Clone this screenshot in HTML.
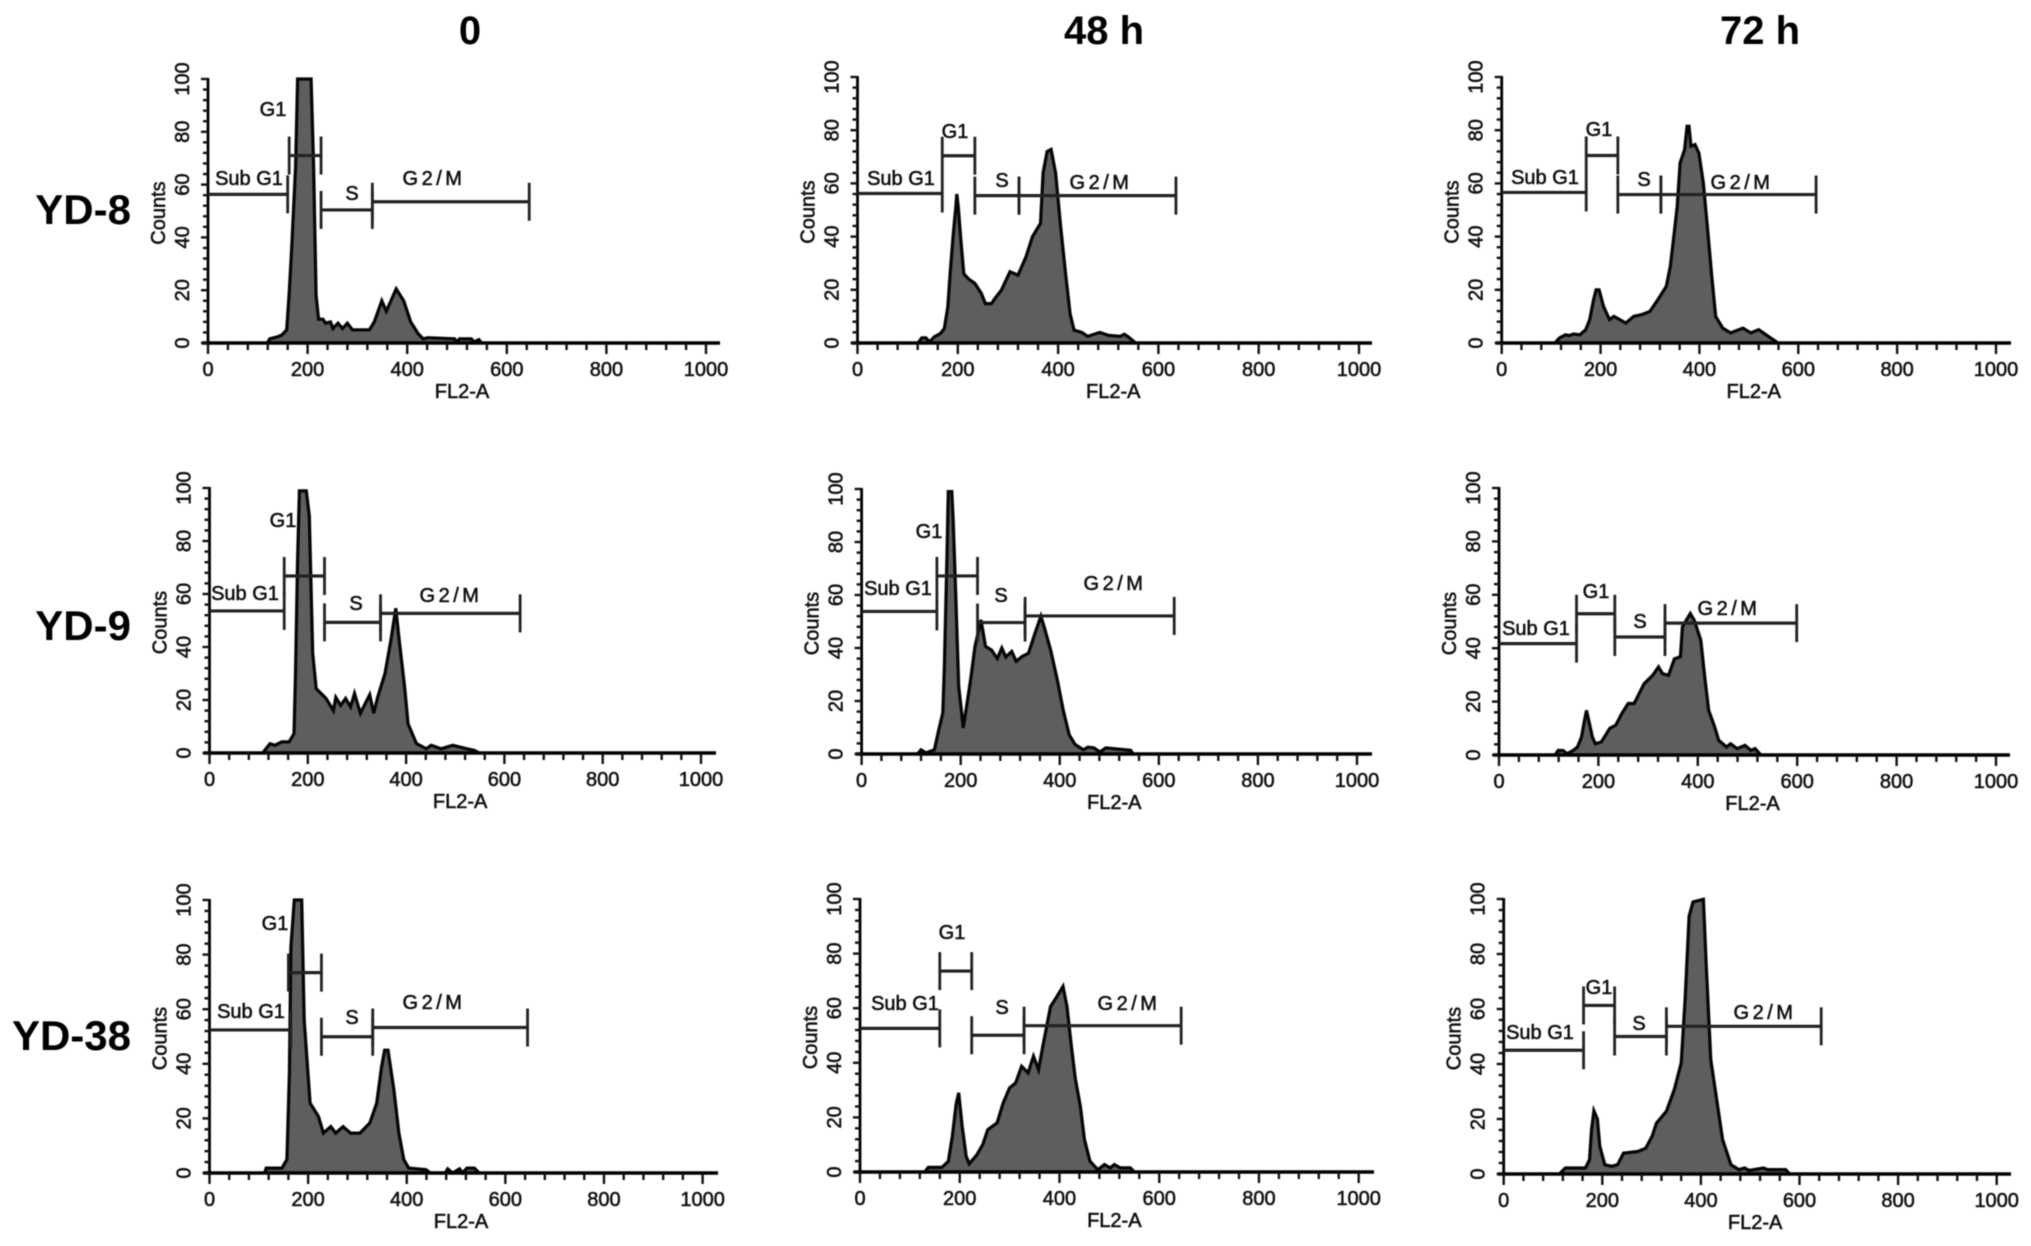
<!DOCTYPE html>
<html lang="en">
<head>
<meta charset="utf-8">
<title>Cell cycle histograms</title>
<style>
html,body{margin:0;padding:0;background:#fff;width:2031px;height:1246px;overflow:hidden}
svg{display:block;filter:blur(0.6px)}
text{font-family:"Liberation Sans",Arial,sans-serif;fill:#111}
.small{font-size:20px;stroke:#111;stroke-width:.55px}
.head{font-weight:bold;fill:#000}
</style>
</head>
<body>
<svg id="figure" xmlns="http://www.w3.org/2000/svg" width="2031" height="1246" viewBox="0 0 2031 1246">
<text class="head" x="470" y="44" font-size="40" text-anchor="middle">0</text>
<text class="head" x="1104" y="44" font-size="40" text-anchor="middle">48 h</text>
<text class="head" x="1766" y="44" font-size="40" text-anchor="middle" transform="translate(-6 0)">72 h</text>
<text class="head" x="131" y="224" font-size="42" text-anchor="end">YD-8</text>
<text class="head" x="131" y="640" font-size="42" text-anchor="end">YD-9</text>
<text class="head" x="131" y="1050" font-size="42" text-anchor="end">YD-38</text>
</svg>
<script>
// Shared labels and ticks
const gateNames = ['Sub G1', 'G1', 'S', 'G2/M'];
const xTickLabels = [0, 200, 400, 600, 800, 1000];
const yTickLabels = [0, 20, 40, 60, 80, 100];

// YD-8, 0 h
const yd8h0Fl = [119,124,139,148,158,163,168,176,180,207,212,217,222,231,236,246,251,261,270,280,290,324,334,349,358,378,393,407,422,432,441,495,500,505,529,534,544,549];
const yd8h0Counts = [0,1.6,2.3,3,5,19,36,67,100,100,67,18,9,9,7.5,8,5.5,7.5,5.5,7.5,5,5,8,16,12,20.5,16,8,3.5,1.6,2,1.6,.4,1.6,1.6,.4,1.3,0];
const yd8h0GateStart = [0,163,227,330];
const yd8h0GateEnd = [160,227,330,645];
const yd8h0GateLevel = [56.3,71,50.4,53.5];

// YD-8, 48 h
const yd8h48Fl = [122,128,136,144,153,165,173,180,185,191,196,198,201,206,212,222,234,247,255,267,275,287,304,320,336,349,365,370,378,386,395,405,415,424,432,447,459,483,500,524,532,540,553];
const yd8h48Counts = [.3,1.9,2,.4,2.3,3.5,5.4,13.5,27,41,51,56,51,39,26,24,22.4,18.6,14.8,14.8,17,19.9,26.8,25.5,32.4,40,45,64,72,72.8,64,44,26,11,4.8,4,2.5,4,2.9,2.5,3.3,2.3,.3];
const yd8h48GateStart = [0,169,234,322];
const yd8h48GateEnd = [169,234,322,635];
const yd8h48GateLevel = [56.2,70.4,55.4,55.4];

// YD-8, 72 h
const yd8h72Fl = [109,117,129,137,145,158,170,178,186,191,197,206,218,227,239,251,267,284,300,316,333,341,349,355,361,370,375,379,383,391,399,408,416,425,433,447,463,488,504,520,541,557];
const yd8h72Counts = [.3,1.9,3.1,2.8,3.4,3.1,5,8.8,16.3,20,20,13.8,8.8,10,8.8,7.5,10,10.7,11.9,16.3,21.3,28.8,41.3,51.3,67.7,72.7,81.5,81.5,74,74.6,71.4,60,44,25,10,5.6,3.8,5.6,3.8,5,2.3,.3];
const yd8h72GateStart = [0,171,235,322];
const yd8h72GateEnd = [171,235,322,636];
const yd8h72GateLevel = [56.6,70.5,55.8,55.8];

// YD-9, 0 h
const yd9h0Fl = [108,123,133,147,162,172,175,179,183,197,203,210,217,237,252,257,267,277,287,295,307,317,326,334,342,357,369,379,386,397,404,421,441,451,471,495,524,539,549];
const yd9h0Counts = [0,3.5,2.9,4.2,4.2,7.3,30,71.6,98.9,98.9,89.5,37.6,24.3,20.6,16,21,18,20.6,17.4,22.5,15,18.7,22,15,21,30,42.6,54.6,42.6,25,11,3.6,1.6,2.9,1.6,2.9,1.6,1,0];
const yd9h0GateStart = [0,152,234,348];
const yd9h0GateEnd = [152,234,348,632];
const yd9h0GateLevel = [53.6,66.8,49.3,52.7];

// YD-9, 48 h
const yd9h48Fl = [113,120,130,147,155,164,167,172,175,182,185,190,196,202,205,212,220,229,241,250,262,274,283,291,303,312,324,337,350,362,370,382,395,407,419,431,448,457,469,481,493,543,548];
const yd9h48Counts = [0,1.6,.4,1.6,8.5,15.5,32,72,99,99,88,60.7,25.5,15.5,9.8,18,28,40.6,50.6,40.6,39.3,36,40,36.6,38.7,35,36.8,38,45.6,52,47,39,28,16.6,7.3,3.6,1.6,2.6,2.3,.8,2.3,1.4,0];
const yd9h48GateStart = [0,152,234,330];
const yd9h48GateEnd = [152,234,330,631];
const yd9h48GateLevel = [53.8,67.2,49.6,52.1];

// YD-9, 72 h
const yd9h72Fl = [113,119,129,137,149,158,166,172,176,182,188,194,206,223,235,247,260,272,280,292,309,321,329,341,353,365,369,385,393,406,414,422,434,442,458,466,479,495,507,515,527];
const yd9h72Counts = [0,1.7,1.7,.5,1.7,3,6.7,13,16.7,11.7,6.7,4.2,4.9,10,11.2,15.5,19.3,19.3,22.3,26.7,29.8,33,30.5,29.8,36,36.8,48,53,50.4,43,29,16.7,10.5,5.5,3,4.2,2.4,3.6,1.7,2.4,0];
const yd9h72GateStart = [0,156,233,334];
const yd9h72GateEnd = [156,233,334,599];
const yd9h72GateLevel = [41.7,52.9,44.2,49.4];

// YD-38, 0 h
const yd38h0Fl = [112,115,147,157,162,165,172,187,192,204,221,231,246,256,271,286,305,325,339,349,355,362,374,384,394,404,439,448,478,483,493,507,513,522,537,546];
const yd38h0Counts = [0,1.8,1.8,4.9,36.6,82.9,100,100,56,25.6,20.7,14.6,17,14.6,17,14.6,14.6,18.3,25.6,39,45,45,30.5,14.6,4.9,1.8,1.2,0,0,1.5,0,1.5,0,1.8,1.8,.2];
const yd38h0GateStart = [0,160,227,331];
const yd38h0GateEnd = [165,227,331,645];
const yd38h0GateLevel = [52.4,73.4,49.9,53.3];

// YD-38, 48 h
const yd38h48Fl = [130,137,164,177,185,193,198,205,213,219,234,246,256,275,287,300,312,324,337,348,358,366,382,395,407,415,424,432,442,450,461,477,490,502,510,522,542,550];
const yd38h48Counts = [0,1.7,1.7,3.9,13,25,29,16.7,5.7,3,6.2,10,15.5,18,25.2,30.8,32.6,38.7,36.3,42.4,37.5,45.4,60.6,64.3,68,60.6,46,34,24,12,4,.8,2.7,1.5,2.7,1.5,1.5,0];
const yd38h48GateStart = [0,160,224,329];
const yd38h48GateEnd = [160,224,329,644];
const yd38h48GateLevel = [52.6,73.6,50.1,53.6];

// YD-38, 72 h
const yd38h72Fl = [113,125,166,174,178,183,190,195,205,219,231,243,272,288,301,310,330,346,360,368,376,384,405,411,420,434,444,461,477,489,497,527,535,572,580];
const yd38h72Counts = [0,2.2,2.2,5.2,16,23,20,10.1,3.4,2.8,3.4,7.6,8.2,9.4,13.7,18.5,22.8,30.7,40.4,63.4,93.7,98.9,99.9,75.5,41.5,24.6,12.5,3.4,1.6,2.2,1.3,2.2,1.6,1.6,0];
const yd38h72GateStart = [0,162,225,330];
const yd38h72GateEnd = [162,225,330,644];
const yd38h72GateLevel = [45,61.3,50,53.7];

const NS = 'http://www.w3.org/2000/svg';
const figure = document.getElementById('figure');

function node(parent, tag, attrs, content) {
  const el = document.createElementNS(NS, tag);
  for (const key in attrs) el.setAttribute(key, attrs[key]);
  if (content !== undefined) el.textContent = content;
  parent.appendChild(el);
  return el;
}

function drawPanel(p) {
  const sx = v => p.x0 + v * (p.x1000 - p.x0) / 1000;
  const sy = c => p.y0 - c * (p.y0 - p.y100) / 100;

  const g = node(figure, 'g', {});
  
  

  // Filled histogram
  const pts = p.fl.map((v, i) => sx(v).toFixed(1) + ',' + sy(p.counts[i]).toFixed(1));
  const area = node(g, 'polygon', {
    points: sx(p.fl[0]).toFixed(1) + ',' + p.y0 + ' ' + pts.join(' ') + ' ' + sx(p.fl[p.fl.length - 1]).toFixed(1) + ',' + p.y0,
    fill: '#5e5e5e', stroke: 'none'
  });
  
  
  const outline = node(g, 'polyline', {
    points: pts.join(' '), fill: 'none', stroke: '#050505', 'stroke-width': 3.2, 'stroke-linejoin': 'miter'
  });
  
  

  // Axes
  const xAxis = node(g, 'line', { x1: p.x0 - 6, x2: p.xEnd, y1: p.y0, y2: p.y0, stroke: '#000', 'stroke-width': 3.4 });
  
  
  const yAxis = node(g, 'line', { x1: p.x0, x2: p.x0, y1: p.y0 + 2, y2: p.y100 - 1, stroke: '#000', 'stroke-width': 2.8 });
  
  

  for (let v = 0; v <= 1000; v += 40) {
    const major = v % 200 === 0;
    const tick = node(g, 'line', { x1: sx(v), x2: sx(v), y1: p.y0, y2: p.y0 + (major ? 11 : 7), stroke: '#111', 'stroke-width': 2.4 });
    
    
  }
  for (let c = 0; c <= 100; c += 4) {
    const major = c % 20 === 0;
    const tick = node(g, 'line', { x1: p.x0 - (major ? 7 : 5), x2: p.x0, y1: sy(c), y2: sy(c), stroke: '#111', 'stroke-width': 2.4 });
    
    
  }
  xTickLabels.forEach(v => {
    const t = node(g, 'text', { class: 'small', x: sx(v), y: p.y0 + 33, 'text-anchor': 'middle' }, String(v));
    
    
  });
  yTickLabels.forEach(c => {
    const lx = p.x0 - 19, ly = sy(c);
    const t = node(g, 'text', { class: 'small', x: lx, y: ly, 'text-anchor': 'middle', transform: 'rotate(-90 ' + lx + ' ' + ly + ')' }, String(c));
    
    
  });
  const xTitle = node(g, 'text', { class: 'small', x: sx(510), y: p.y0 + 55, 'text-anchor': 'middle' }, 'FL2-A');
  
  
  const tx = p.x0 - 43, ty = (p.y0 + p.y100) / 2 + 2;
  const yTitle = node(g, 'text', { class: 'small', x: tx, y: ty, 'text-anchor': 'middle', transform: 'rotate(-90 ' + tx + ' ' + ty + ')' }, 'Counts');
  
  

  // Gates
  gateNames.forEach((name, i) => {
    const gy = sy(p.gateLevel[i]);
    const bar = node(g, 'line', { x1: sx(p.gateStart[i]), x2: sx(p.gateEnd[i]), y1: gy, y2: gy, stroke: '#222', 'stroke-width': 3.2 });
    
    
    if (i > 0) {
      const left = node(g, 'line', { x1: sx(p.gateStart[i]), x2: sx(p.gateStart[i]), y1: gy - 19, y2: gy + 19, stroke: '#222', 'stroke-width': 2.8 });
      
      
    }
    const right = node(g, 'line', { x1: sx(p.gateEnd[i]), x2: sx(p.gateEnd[i]), y1: gy - 19, y2: gy + 19, stroke: '#222', 'stroke-width': 2.8 });
    
    
    const label = node(g, 'text', { class: 'small', x: p.labelX[i], y: p.labelY[i] + 7, 'text-anchor': 'middle', 'letter-spacing': i === 3 ? 3.5 : 0 }, name);
    
    
  });
}

drawPanel({ id:'yd-8-0h', x0:208, x1000:706, xEnd:720, y0:343, y100:79, fl:yd8h0Fl, counts:yd8h0Counts, gateStart:yd8h0GateStart, gateEnd:yd8h0GateEnd, gateLevel:yd8h0GateLevel, labelX:[249,273,352,434], labelY:[178,109,193,178] });
drawPanel({ id:'yd-8-48h', x0:857.5, x1000:1359, xEnd:1372, y0:343, y100:77, fl:yd8h48Fl, counts:yd8h48Counts, gateStart:yd8h48GateStart, gateEnd:yd8h48GateEnd, gateLevel:yd8h48GateLevel, labelX:[901,955,1002,1101], labelY:[178,131,180,182] });
drawPanel({ id:'yd-8-72h', x0:1501.7, x1000:1996, xEnd:2011, y0:343, y100:77, fl:yd8h72Fl, counts:yd8h72Counts, gateStart:yd8h72GateStart, gateEnd:yd8h72GateEnd, gateLevel:yd8h72GateLevel, labelX:[1545,1599,1644,1742], labelY:[177,129,179,182] });
drawPanel({ id:'yd-9-0h', x0:209.5, x1000:701, xEnd:716, y0:753, y100:488, fl:yd9h0Fl, counts:yd9h0Counts, gateStart:yd9h0GateStart, gateEnd:yd9h0GateEnd, gateLevel:yd9h0GateLevel, labelX:[245,283,356,451], labelY:[593,520,603,595] });
drawPanel({ id:'yd-9-48h', x0:861.6, x1000:1357, xEnd:1372, y0:754, y100:489, fl:yd9h48Fl, counts:yd9h48Counts, gateStart:yd9h48GateStart, gateEnd:yd9h48GateEnd, gateLevel:yd9h48GateLevel, labelX:[898,929,1001,1115], labelY:[588,531,595,583] });
drawPanel({ id:'yd-9-72h', x0:1499, x1000:1996, xEnd:2010, y0:755, y100:488, fl:yd9h72Fl, counts:yd9h72Counts, gateStart:yd9h72GateStart, gateEnd:yd9h72GateEnd, gateLevel:yd9h72GateLevel, labelX:[1536,1596,1640,1729], labelY:[628,591,621,608] });
drawPanel({ id:'yd-38-0h', x0:209.5, x1000:702.6, xEnd:718, y0:1173, y100:900, fl:yd38h0Fl, counts:yd38h0Counts, gateStart:yd38h0GateStart, gateEnd:yd38h0GateEnd, gateLevel:yd38h0GateLevel, labelX:[251,275,352,434], labelY:[1011,923,1017,1002] });
drawPanel({ id:'yd-38-48h', x0:860, x1000:1358.7, xEnd:1374, y0:1172, y100:899, fl:yd38h48Fl, counts:yd38h48Counts, gateStart:yd38h48GateStart, gateEnd:yd38h48GateEnd, gateLevel:yd38h48GateLevel, labelX:[905,952,1002,1129], labelY:[1003,932,1007,1003] });
drawPanel({ id:'yd-38-72h', x0:1503.7, x1000:1996.7, xEnd:2011, y0:1174, y100:899, fl:yd38h72Fl, counts:yd38h72Counts, gateStart:yd38h72GateStart, gateEnd:yd38h72GateEnd, gateLevel:yd38h72GateLevel, labelX:[1540,1599,1639,1765], labelY:[1032,987,1023,1012] });
</script>
</body>
</html>
